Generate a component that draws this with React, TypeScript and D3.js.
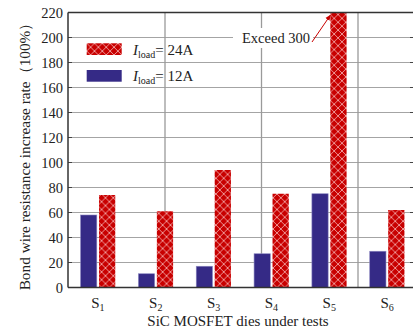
import React from 'react';
import * as d3 from 'd3';

const dies = ['1', '2', '3', '4', '5', '6'];
const load12A = [58, 11, 17, 27, 75, 29];
const load24A = [74, 61, 94, 75, 300, 62];
const yTicks = [0, 20, 40, 60, 80, 100, 120, 140, 160, 180, 200, 220];
const xGridTicks = [1, 2, 3];

const W = 413, H = 335;
const left = 68, top = 12.5, bottom = 287.5, right = 414;
const FONT = '"Liberation Serif", "Times New Roman", serif';
const RED = '#c80000', BLUE = '#352a86';

export default function App() {
  const y = d3.scaleLinear().domain([0, 220]).range([bottom, top]).clamp(true);
  const x = d3.scaleBand<string>().domain(dies).range([69, 416]).paddingInner(0.4).paddingOuter(0.2);
  const sub = d3.scaleBand<string>().domain(['12', '24']).range([0, x.bandwidth()]).paddingInner(0.12);
  const xg = d3.scaleLinear().domain([0, 4]).range([68.5, 454.5]);

  const hatch = (id: string, x0: number, y0: number) => (
    <pattern id={id} key={id} patternUnits="userSpaceOnUse" x={x0} y={y0} width={7.8} height={7.8}>
      <rect width={7.8} height={7.8} fill={RED} />
      <path d="M0,0L7.8,7.8M7.8,0L0,7.8" stroke="#f2a6a6" strokeWidth={0.9} />
    </pattern>
  );

  return (
    <svg width={W} height={H} style={{ position: 'absolute', left: 0, top: 0, background: '#fff' }} fontFamily={FONT}>
      <defs>
        {dies.map((d) => hatch(`h${d}`, (x(d) || 0) + (sub('24') || 0), bottom))}
        {hatch('hleg', 86.7, 43.3)}
        <marker id="arr" viewBox="0 0 10 10" refX={9} refY={5} markerWidth={6} markerHeight={6} orient="auto">
          <path d="M0,1L10,5L0,9z" fill={RED} />
        </marker>
      </defs>
      {/* grid */}
      {yTicks.slice(1, -1).map((t) => (
        <line key={t} x1={left} x2={right} y1={y(t)} y2={y(t)} stroke="#a4a4a4" strokeWidth={1.1} />
      ))}
      {xGridTicks.map((t) => (
        <line key={t} x1={xg(t)} x2={xg(t)} y1={top} y2={bottom} stroke="#9a9a9a" strokeWidth={1.3} />
      ))}
      {/* ticks */}
      {yTicks.map((t) => (
        <g key={t}>
          <line x1={left} x2={left + 4} y1={y(t)} y2={y(t)} stroke="#444" strokeWidth={1} />
          <line x1={right - 4} x2={right} y1={y(t)} y2={y(t)} stroke="#444" strokeWidth={1} />
          <text x={63} y={y(t)} dy="0.35em" textAnchor="end" fontSize={14.5} fill="#222">{t}</text>
        </g>
      ))}
      {/* bars */}
      {dies.map((d, i) => (
        <g key={d} transform={`translate(${x(d)},0)`}>
          <rect x={sub('12')} y={y(load12A[i])} width={sub.bandwidth()} height={bottom - y(load12A[i])}
            fill={BLUE} stroke="#8a86c0" strokeWidth={0.6} />
          <rect x={sub('24')} y={y(load24A[i])} width={sub.bandwidth()} height={bottom - y(load24A[i])}
            fill={`url(#h${d})`} />
        </g>
      ))}
      {/* axes frame */}
      <line x1={left} x2={right} y1={top} y2={top} stroke="#333" strokeWidth={1.5} />
      <line x1={left} x2={right} y1={bottom} y2={bottom} stroke="#333" strokeWidth={1.5} />
      <line x1={left} x2={left} y1={top} y2={bottom} stroke="#333" strokeWidth={1.5} />
      {/* x labels */}
      {dies.map((d) => (
        <text key={d} x={(x(d) || 0) + x.bandwidth() / 2} y={308} textAnchor="middle" fontSize={15} fill="#222">
          S<tspan fontSize={10} dy={3}>{d}</tspan>
        </text>
      ))}
      <text x={238} y={326} textAnchor="middle" fontSize={15} fill="#222">SiC MOSFET dies under tests</text>
      <text transform={`translate(30,${(top + bottom) / 2 + 3}) rotate(-90)`} textAnchor="middle" fontSize={15.3} fill="#222">
        Bond wire resistance increase rate（100%）
      </text>
      {/* legend */}
      <rect x={86.7} y={43.3} width={35} height={11.7} fill="url(#hleg)" />
      <rect x={86.7} y={70} width={35} height={11.7} fill={BLUE} />
      {[['24A', 54.5], ['12A', 81.2]].map(([v, by]) => (
        <text key={v as string} x={133} y={by as number} fontSize={15} fill="#222">
          <tspan fontStyle="italic">I</tspan>
          <tspan fontSize={10} dy={3}>load</tspan>
          <tspan dy={-3}>= {v}</tspan>
        </text>
      ))}
      {/* annotation */}
      <rect x={233} y={28} width={80} height={20} fill="#fff" />
      <text x={242} y={43} fontSize={14.5} fill="#222">Exceed 300</text>
      <line x1={312} y1={42} x2={330.5} y2={15} stroke={RED} strokeWidth={1} markerEnd="url(#arr)" />
    </svg>
  );
}
